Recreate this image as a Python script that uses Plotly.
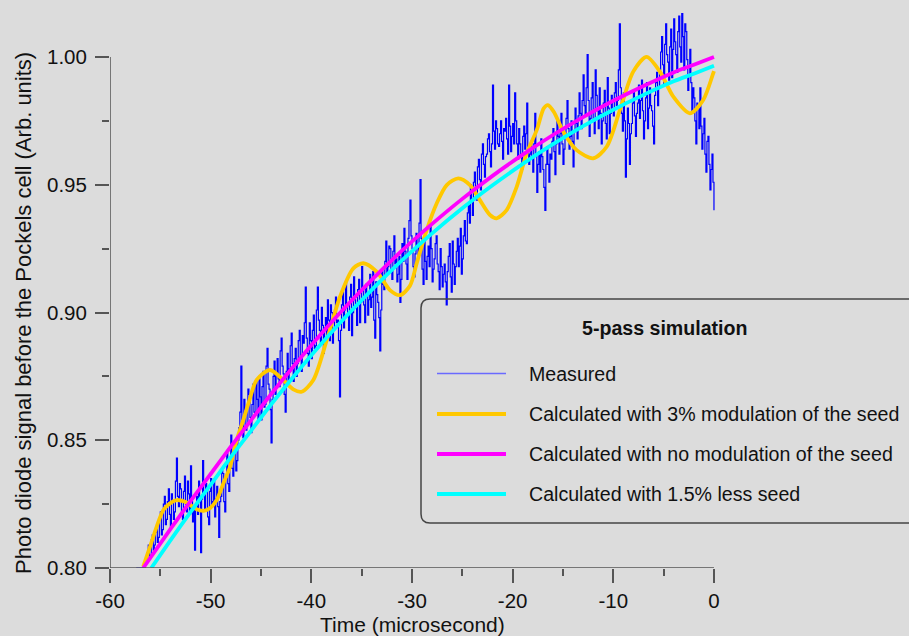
import plotly.graph_objects as go

# ---------------- data ----------------
MEAS_X0 = -57.4
MEAS_STEP = 0.1
measured_y = [
    0.800, 0.800, 0.800, 0.800, 0.800, 0.800, 0.800, 0.800, 0.800, 0.801, 0.803, 0.806, 0.809, 0.804, 0.805, 0.811, 0.813, 0.807, 0.809, 0.814,
    0.816, 0.810, 0.812, 0.819, 0.822, 0.813, 0.815, 0.825, 0.828, 0.817, 0.819, 0.826, 0.831, 0.821, 0.816, 0.829, 0.826, 0.819, 0.822, 0.834,
    0.843, 0.828, 0.824, 0.833, 0.831, 0.822, 0.819, 0.830, 0.836, 0.825, 0.822, 0.834, 0.829, 0.821, 0.840, 0.826, 0.818, 0.823, 0.807, 0.825,
    0.828, 0.821, 0.834, 0.826, 0.806, 0.827, 0.842, 0.829, 0.823, 0.833, 0.831, 0.820, 0.817, 0.830, 0.835, 0.824, 0.826, 0.834, 0.820, 0.827,
    0.832, 0.824, 0.812, 0.826, 0.828, 0.838, 0.837, 0.826, 0.822, 0.835, 0.845, 0.833, 0.830, 0.843, 0.852, 0.839, 0.836, 0.846, 0.848, 0.838,
    0.842, 0.850, 0.855, 0.861, 0.879, 0.858, 0.851, 0.866, 0.862, 0.854, 0.856, 0.870, 0.868, 0.859, 0.853, 0.864, 0.872, 0.861, 0.860, 0.873,
    0.866, 0.858, 0.874, 0.867, 0.858, 0.871, 0.877, 0.863, 0.864, 0.879, 0.886, 0.872, 0.870, 0.862, 0.849, 0.866, 0.875, 0.881, 0.868, 0.876,
    0.882, 0.874, 0.871, 0.885, 0.890, 0.879, 0.876, 0.868, 0.861, 0.877, 0.884, 0.872, 0.878, 0.887, 0.892, 0.880, 0.873, 0.882, 0.886, 0.875,
    0.880, 0.889, 0.893, 0.883, 0.877, 0.891, 0.888, 0.896, 0.910, 0.890, 0.884, 0.879, 0.896, 0.889, 0.882, 0.893, 0.899, 0.886, 0.887, 0.901,
    0.910, 0.897, 0.893, 0.888, 0.902, 0.895, 0.884, 0.894, 0.898, 0.891, 0.905, 0.897, 0.889, 0.903, 0.900, 0.888, 0.893, 0.901, 0.906, 0.896,
    0.897, 0.889, 0.867, 0.893, 0.903, 0.908, 0.894, 0.901, 0.912, 0.903, 0.899, 0.893, 0.906, 0.911, 0.891, 0.900, 0.914, 0.905, 0.902, 0.895,
    0.909, 0.913, 0.896, 0.904, 0.918, 0.910, 0.903, 0.896, 0.911, 0.907, 0.899, 0.905, 0.915, 0.902, 0.906, 0.916, 0.897, 0.890, 0.912, 0.907,
    0.904, 0.898, 0.885, 0.901, 0.916, 0.911, 0.909, 0.920, 0.928, 0.915, 0.918, 0.926, 0.925, 0.917, 0.913, 0.924, 0.930, 0.919, 0.921, 0.912,
    0.915, 0.922, 0.904, 0.913, 0.927, 0.920, 0.933, 0.924, 0.919, 0.913, 0.929, 0.936, 0.944, 0.930, 0.925, 0.918, 0.914, 0.923, 0.931, 0.926,
    0.922, 0.935, 0.952, 0.929, 0.917, 0.911, 0.928, 0.920, 0.913, 0.922, 0.926, 0.918, 0.934, 0.925, 0.912, 0.917, 0.921, 0.927, 0.930, 0.919,
    0.916, 0.909, 0.925, 0.918, 0.910, 0.915, 0.919, 0.912, 0.903, 0.916, 0.922, 0.927, 0.914, 0.908, 0.928, 0.919, 0.911, 0.918, 0.924, 0.929,
    0.918, 0.926, 0.933, 0.915, 0.921, 0.930, 0.936, 0.928, 0.927, 0.939, 0.942, 0.935, 0.950, 0.944, 0.938, 0.951, 0.955, 0.947, 0.944, 0.957,
    0.960, 0.952, 0.948, 0.962, 0.966, 0.958, 0.953, 0.961, 0.962, 0.968, 0.970, 0.963, 0.957, 0.966, 0.989, 0.971, 0.964, 0.975, 0.972, 0.966,
    0.965, 0.970, 0.975, 0.967, 0.960, 0.972, 0.971, 0.976, 0.968, 0.962, 0.989, 0.973, 0.963, 0.969, 0.974, 0.966, 0.986, 0.975, 0.966, 0.960,
    0.972, 0.966, 0.961, 0.956, 0.969, 0.973, 0.964, 0.970, 0.982, 0.965, 0.958, 0.962, 0.967, 0.960, 0.955, 0.966, 0.978, 0.962, 0.947, 0.958,
    0.963, 0.955, 0.968, 0.961, 0.956, 0.949, 0.940, 0.958, 0.965, 0.958, 0.951, 0.962, 0.960, 0.967, 0.972, 0.963, 0.954, 0.966, 0.975, 0.969,
    0.962, 0.970, 0.978, 0.966, 0.958, 0.964, 0.970, 0.976, 0.983, 0.972, 0.964, 0.969, 0.975, 0.967, 0.957, 0.971, 0.980, 0.974, 0.968, 0.977,
    0.986, 0.978, 0.972, 0.983, 0.993, 0.981, 0.977, 0.988, 1.001, 0.983, 0.969, 0.976, 0.984, 0.990, 0.975, 0.970, 0.995, 0.985, 0.979, 0.972,
    0.988, 0.978, 0.966, 0.975, 0.982, 0.987, 0.974, 0.968, 0.992, 0.980, 0.970, 0.978, 0.985, 0.979, 0.977, 0.986, 0.990, 0.981, 0.983, 0.995,
    1.013, 0.988, 0.978, 0.971, 0.986, 0.975, 0.953, 0.968, 0.980, 0.974, 0.958, 0.970, 0.974, 0.982, 0.987, 0.977, 0.969, 0.978, 0.982, 0.989,
    0.976, 0.983, 0.991, 0.979, 0.968, 0.975, 0.984, 0.990, 0.972, 0.980, 0.988, 0.981, 0.979, 0.973, 0.966, 0.985, 0.990, 0.994, 0.981, 0.988,
    0.995, 1.002, 1.008, 0.997, 0.989, 1.005, 1.013, 1.001, 0.998, 0.991, 1.004, 1.011, 0.992, 1.003, 1.015, 1.006, 1.001, 0.994, 1.010, 1.016,
    1.004, 0.998, 1.017, 1.008, 0.995, 1.013, 1.010, 0.999, 0.987, 0.993, 1.003, 0.990, 0.979, 0.988, 0.984, 0.975, 0.966, 0.982, 0.980, 0.972,
    0.988, 0.973, 0.964, 0.970, 0.976, 0.962, 0.955, 0.967, 0.969, 0.958, 0.948, 0.956, 0.962, 0.951, 0.940,
]
measured_x = [round(MEAS_X0 + MEAS_STEP * i, 2) for i in range(len(measured_y))]

mod_x = [-56.7, -56.03, -55.36, -54.70, -54.04, -53.37, -52.55, -52.05, -51.39, -50.73,
         -50.07, -49.40, -48.74, -48.08, -47.41, -46.76, -46.2, -45.43, -44.1, -42.79,
         -41.79, -40.96, -39.8, -38.47, -37.15, -35.83, -34.83, -33.51, -32.19, -31.19,
         -30.2, -29.53, -28.54, -27.55, -26.55, -25.40, -24.24, -23.25, -22.25, -21.59,
         -20.6, -19.6, -18.61, -17.61, -16.9, -16.5, -15.9, -14.97, -13.64, -11.99,
         -10.66, -9.34, -8.02, -6.69, -5.37, -4.04, -2.39, -1.07, -0.13, 0.0]
mod_y = [0.8005, 0.8083, 0.8162, 0.8227, 0.8253, 0.8266, 0.8259, 0.8247, 0.8230, 0.8224,
         0.8234, 0.8266, 0.8331, 0.8396, 0.8501, 0.8579, 0.8650, 0.8736, 0.8775, 0.8736,
         0.8699, 0.8690, 0.8736, 0.8892, 0.9062, 0.9173, 0.9193, 0.9160, 0.9088, 0.9068,
         0.9105, 0.9193, 0.9323, 0.9427, 0.9499, 0.9525, 0.9499, 0.9440, 0.9382, 0.9369,
         0.9401, 0.9492, 0.9623, 0.9714, 0.9800, 0.9812, 0.9785, 0.9708, 0.9636, 0.9604,
         0.9649, 0.9793, 0.9943, 1.0001, 0.9943, 0.9845, 0.9780, 0.9832, 0.9930, 0.9945]

nomod_x = [-56.7, -54, -52, -50, -48, -46, -44, -42, -40, -37, -34, -31, -28, -25,
           -22, -19, -16, -13, -10, -7, -4, -2, 0]
nomod_y = [0.800, 0.8152, 0.8262, 0.8368, 0.8475, 0.8578, 0.868, 0.8778, 0.8872, 0.9005,
           0.9128, 0.9242, 0.9347, 0.9445, 0.9535, 0.9618, 0.9695, 0.9765, 0.9829, 0.9887,
           0.994, 0.997, 1.000]

less_x = [-55.9, -54, -52, -50, -48, -46, -44, -42, -40, -37, -34, -31, -28, -25,
          -22, -19, -16, -13, -10, -7, -4, -2, 0]
less_y = [0.800, 0.8108, 0.8219, 0.8326, 0.8434, 0.8537, 0.864, 0.8738, 0.8833, 0.8966,
          0.9089, 0.9204, 0.931, 0.9408, 0.9498, 0.9582, 0.9659, 0.973, 0.9794, 0.9852,
          0.9905, 0.9935, 0.9966]

series_names = ["Measured",
                "Calculated with 3% modulation of the seed",
                "Calculated with no modulation of the seed",
                "Calculated with 1.5% less seed"]
legend_title = "5-pass simulation"
x_title = "Time (microsecond)"
y_title = "Photo diode signal before the Pockels cell (Arb. units)"

x_tick_vals = [-60, -50, -40, -30, -20, -10, 0]
x_tick_text = ["-60", "-50", "-40", "-30", "-20", "-10", "0"]
x_minor_vals = [-55, -45, -35, -25, -15, -5]
y_tick_vals = [0.80, 0.85, 0.90, 0.95, 1.00]
y_tick_text = ["0.80", "0.85", "0.90", "0.95", "1.00"]
y_minor_vals = [0.825, 0.875, 0.925, 0.975]

# ---------------- style ----------------
W, H = 909, 636
ML, MR, MT, MB = 110, 191, 6, 68
X_RANGE = [-60, 0.4]
Y_RANGE = [0.80, 1.02]
AXIS_X_END = 0
AXIS_Y_END = 1.00
BG = "#dcdcdc"
FONT = "Liberation Sans, Arial, sans-serif"
COLORS = ["#0000ff", "#ffc800", "#ff00ff", "#00ffff"]
LEG_COLORS = ["#6a6aff", "#ffc800", "#ff00ff", "#00ffff"]
CURVE_W = 3.8

PW = W - ML - MR
PH = H - MT - MB


def px(X):
    return (X - ML) / PW


def py(Y):
    return 1 - (Y - MT) / PH


fig = go.Figure()
fig.add_trace(go.Scatter(x=measured_x, y=measured_y, mode="lines",
                         line=dict(color=COLORS[0], width=1.2, shape="hv"),
                         name=series_names[0]))
fig.add_trace(go.Scatter(x=mod_x, y=mod_y, mode="lines",
                         line=dict(color=COLORS[1], width=CURVE_W, shape="spline", smoothing=0.8),
                         name=series_names[1]))
fig.add_trace(go.Scatter(x=nomod_x, y=nomod_y, mode="lines",
                         line=dict(color=COLORS[2], width=CURVE_W, shape="spline", smoothing=0.8),
                         name=series_names[2]))
fig.add_trace(go.Scatter(x=less_x, y=less_y, mode="lines",
                         line=dict(color=COLORS[3], width=CURVE_W, shape="spline", smoothing=0.8),
                         name=series_names[3]))

shapes = []
AX_COL = "#555555"
# axis lines (span only the labelled part of each axis)
shapes.append(dict(type="line", xref="x", yref="y", x0=X_RANGE[0], x1=AXIS_X_END,
                   y0=Y_RANGE[0], y1=Y_RANGE[0], line=dict(color=AX_COL, width=1.5)))
shapes.append(dict(type="line", xref="x", yref="y", x0=X_RANGE[0], x1=X_RANGE[0],
                   y0=Y_RANGE[0], y1=AXIS_Y_END, line=dict(color=AX_COL, width=1.5)))

# legend box with rounded corners
bx0, by0, bx1, by1, r = 421, 299, 930, 523, 9
path = (f"M {px(bx0 + r)},{py(by0)} L {px(bx1)},{py(by0)} L {px(bx1)},{py(by1)} "
        f"L {px(bx0 + r)},{py(by1)} Q {px(bx0)},{py(by1)} {px(bx0)},{py(by1 - r)} "
        f"L {px(bx0)},{py(by0 + r)} Q {px(bx0)},{py(by0)} {px(bx0 + r)},{py(by0)} Z")
shapes.append(dict(type="path", xref="paper", yref="paper", path=path,
                   line=dict(color="#444444", width=1.5), fillcolor="rgba(0,0,0,0)"))

annotations = []
row_y = [373.5, 414, 454, 494]
for i, name in enumerate(series_names):
    shapes.append(dict(type="line", xref="paper", yref="paper",
                       x0=px(437), x1=px(506), y0=py(row_y[i]), y1=py(row_y[i]),
                       line=dict(color=LEG_COLORS[i], width=1.6 if i == 0 else CURVE_W)))
    annotations.append(dict(xref="paper", yref="paper", x=px(527), y=py(row_y[i]),
                            text=name, showarrow=False, xanchor="left", yanchor="middle",
                            font=dict(family=FONT, size=19.6, color="#111111")))
annotations.append(dict(xref="paper", yref="paper", x=px(665), y=py(328),
                        text="<b>" + legend_title + "</b>", showarrow=False,
                        xanchor="center", yanchor="middle",
                        font=dict(family=FONT, size=19.6, color="#111111")))
annotations.append(dict(xref="paper", yref="paper", x=px(412), y=py(624),
                        text=x_title, showarrow=False, xanchor="center", yanchor="middle",
                        font=dict(family=FONT, size=21, color="#111111")))
annotations.append(dict(xref="paper", yref="paper", x=px(23), y=py(313),
                        text=y_title, showarrow=False, xanchor="center", yanchor="middle",
                        textangle=-90,
                        font=dict(family=FONT, size=22, color="#111111")))

fig.update_layout(
    width=W, height=H,
    margin=dict(l=ML, r=MR, t=MT, b=MB, pad=0),
    paper_bgcolor=BG, plot_bgcolor=BG,
    showlegend=False,
    shapes=shapes, annotations=annotations,
    font=dict(family=FONT, color="#111111"),
)
fig.update_xaxes(range=X_RANGE, showgrid=False, zeroline=False, showline=False,
                 tickmode="array", tickvals=x_tick_vals, ticktext=x_tick_text,
                 ticks="outside", ticklen=14, tickwidth=1.5, tickcolor=AX_COL,
                 tickfont=dict(family=FONT, size=20.5, color="#111111"),
                 minor=dict(tickmode="array", tickvals=x_minor_vals, ticks="outside",
                            ticklen=7, tickwidth=1.5, tickcolor=AX_COL, showgrid=False))
fig.update_yaxes(range=Y_RANGE, showgrid=False, zeroline=False, showline=False,
                 tickmode="array", tickvals=y_tick_vals, ticktext=y_tick_text,
                 ticks="outside", ticklen=14, tickwidth=1.5, tickcolor=AX_COL,
                 ticklabelstandoff=4,
                 tickfont=dict(family=FONT, size=20.5, color="#111111"),
                 minor=dict(tickmode="array", tickvals=y_minor_vals, ticks="outside",
                            ticklen=7, tickwidth=1.5, tickcolor=AX_COL, showgrid=False))

fig.write_html("out.html")
